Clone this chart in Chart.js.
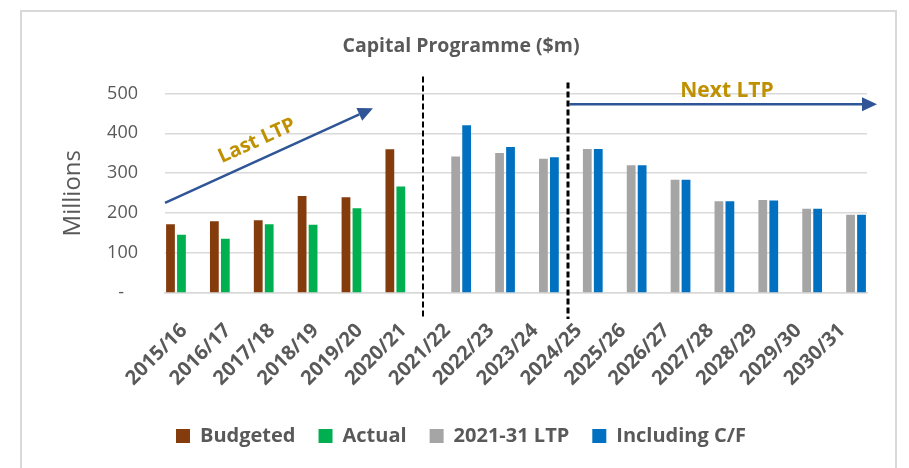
<!DOCTYPE html>
<html>
<head>
<meta charset="utf-8">
<script src="https://cdn.jsdelivr.net/npm/chart.js@4"></script>
<style>
  html, body { margin: 0; padding: 0; background: #fff; }
  #wrap { width: 909px; height: 468px; }
</style>
</head>
<body>
<div id="wrap"><canvas id="capChart" width="909" height="468"></canvas></div>
<script>
// data ($m)
const years = ["2015/16", "2016/17", "2017/18", "2018/19", "2019/20", "2020/21", "2021/22", "2022/23",
  "2023/24", "2024/25", "2025/26", "2026/27", "2027/28", "2028/29", "2029/30", "2030/31"];
const budgeted = [172, 180, 182, 243, 240, 360, null, null, null, null, null, null, null, null, null, null];
const actual = [146, 136, 172, 171, 212, 267, null, null, null, null, null, null, null, null, null, null];
const ltp = [null, null, null, null, null, null, 342, 351, 336, 361, 320, 284, 230, 233, 211, 196];
const inclCF = [null, null, null, null, null, null, 420, 366, 340, 361, 320, 284, 230, 232, 211, 196];
const yTicks = [0, 100, 200, 300, 400, 500];

const FONT = "'Open Sans', sans-serif";
const GREY_TXT = "#595959";
const GOLD = "#BF9000";
const ARROW = "#2F5597";

function arrow(ctx, x1, y1, x2, y2) {
  const ang = Math.atan2(y2 - y1, x2 - x1);
  const head = 15, half = 7;
  ctx.save();
  ctx.strokeStyle = ARROW;
  ctx.fillStyle = ARROW;
  ctx.lineWidth = 2.5;
  ctx.beginPath();
  ctx.moveTo(x1, y1);
  ctx.lineTo(x2 - head * Math.cos(ang), y2 - head * Math.sin(ang));
  ctx.stroke();
  ctx.translate(x2, y2);
  ctx.rotate(ang);
  ctx.beginPath();
  ctx.moveTo(0, 0);
  ctx.lineTo(-head, -half);
  ctx.lineTo(-head, half);
  ctx.closePath();
  ctx.fill();
  ctx.restore();
}

const extras = {
  id: "extras",
  afterDraw(chart) {
    const { ctx, chartArea, scales } = chart;
    const x = scales.x, y = scales.y;
    ctx.save();
    // outer frame
    ctx.strokeStyle = "#D9D9D9";
    ctx.lineWidth = 2;
    ctx.strokeRect(21, 11, 875, 470);

    // dashed separators
    ctx.strokeStyle = "#000";
    ctx.setLineDash([6, 3]);
    ctx.lineWidth = 2;
    const d1 = Math.round(x.getPixelForValue(5.38));
    ctx.beginPath();
    ctx.moveTo(d1, chartArea.top - 17);
    ctx.lineTo(d1, chartArea.bottom + 26);
    ctx.stroke();
    ctx.lineWidth = 3;
    const d2 = Math.round(x.getPixelForValue(8.685));
    ctx.beginPath();
    ctx.moveTo(d2, chartArea.top - 11);
    ctx.lineTo(d2, chartArea.bottom + 26);
    ctx.stroke();
    ctx.setLineDash([]);

    // Last LTP arrow
    const ax1 = chartArea.left, ay1 = y.getPixelForValue(226);
    const ax2 = x.getPixelForValue(4.24), ay2 = y.getPixelForValue(463);
    arrow(ctx, ax1, ay1, ax2, ay2);
    ctx.save();
    ctx.translate(257, 141);
    ctx.rotate(Math.atan2(ay2 - ay1, ax2 - ax1));
    ctx.fillStyle = GOLD;
    ctx.font = "bold 20px " + FONT;
    ctx.textAlign = "center";
    ctx.textBaseline = "middle";
    ctx.fillText("Last LTP", 0, 0);
    ctx.restore();

    // Next LTP arrow
    const ny = y.getPixelForValue(473);
    arrow(ctx, d2 + 1, ny, chartArea.right + 10, ny);
    ctx.fillStyle = GOLD;
    ctx.font = "bold 21px " + FONT;
    ctx.textAlign = "center";
    ctx.textBaseline = "middle";
    ctx.fillText("Next LTP", 727, 91);
    ctx.restore();
  }
};

new Chart(document.getElementById("capChart"), {
  type: "bar",
  data: {
    labels: years,
    datasets: [
      { label: "Budgeted", data: budgeted, backgroundColor: "#843C0C" },
      { label: "Actual", data: actual, backgroundColor: "#00B050" },
      { label: "2021-31 LTP", data: ltp, backgroundColor: "#A5A5A5" },
      { label: "Including C/F", data: inclCF, backgroundColor: "#0070C0" }
    ]
  },
  options: {
    responsive: false,
    animation: false,
    layout: { padding: { left: 55, right: 42, top: 0, bottom: 12 } },
    datasets: { bar: { categoryPercentage: 1.0, barPercentage: 0.8 } },
    plugins: {
      title: {
        display: true,
        text: "Capital Programme ($m)",
        color: GREY_TXT,
        font: { family: FONT, size: 19.5, weight: "bold" },
        padding: { top: 35, bottom: 35 }
      },
      legend: {
        position: "bottom",
        labels: {
          color: GREY_TXT,
          font: { family: FONT, size: 20, weight: "bold" },
          boxWidth: 14,
          boxHeight: 14,
          padding: 23
        }
      },
      tooltip: { enabled: false }
    },
    scales: {
      x: {
        afterFit(scale) { scale.height = 110; },
        grid: { display: false, drawTicks: false },
        border: { color: "#D9D9D9", width: 1.5 },
        ticks: {
          color: GREY_TXT,
          font: { family: FONT, size: 20, weight: "bold" },
          maxRotation: 45,
          minRotation: 45,
          padding: 26,
          labelOffset: -3,
          autoSkip: false
        }
      },
      y: {
        min: 0,
        max: 500,
        afterBuildTicks(scale) {
          scale.ticks = yTicks.map(v => ({ value: v }));
        },
        afterFit(scale) { scale.width = 110; },
        grid: { color: "#D9D9D9", lineWidth: 1.5, drawTicks: false },
        border: { display: false },
        ticks: {
          color: GREY_TXT,
          font: { family: FONT, size: 18 },
          padding: 27,
          callback: v => (v === 0 ? "-   " : v)
        },
        title: {
          display: true,
          text: "Millions",
          color: GREY_TXT,
          font: { family: FONT, size: 24 },
          padding: { top: 4, bottom: 0 }
        }
      }
    }
  },
  plugins: [extras]
});
</script>
</body>
</html>
